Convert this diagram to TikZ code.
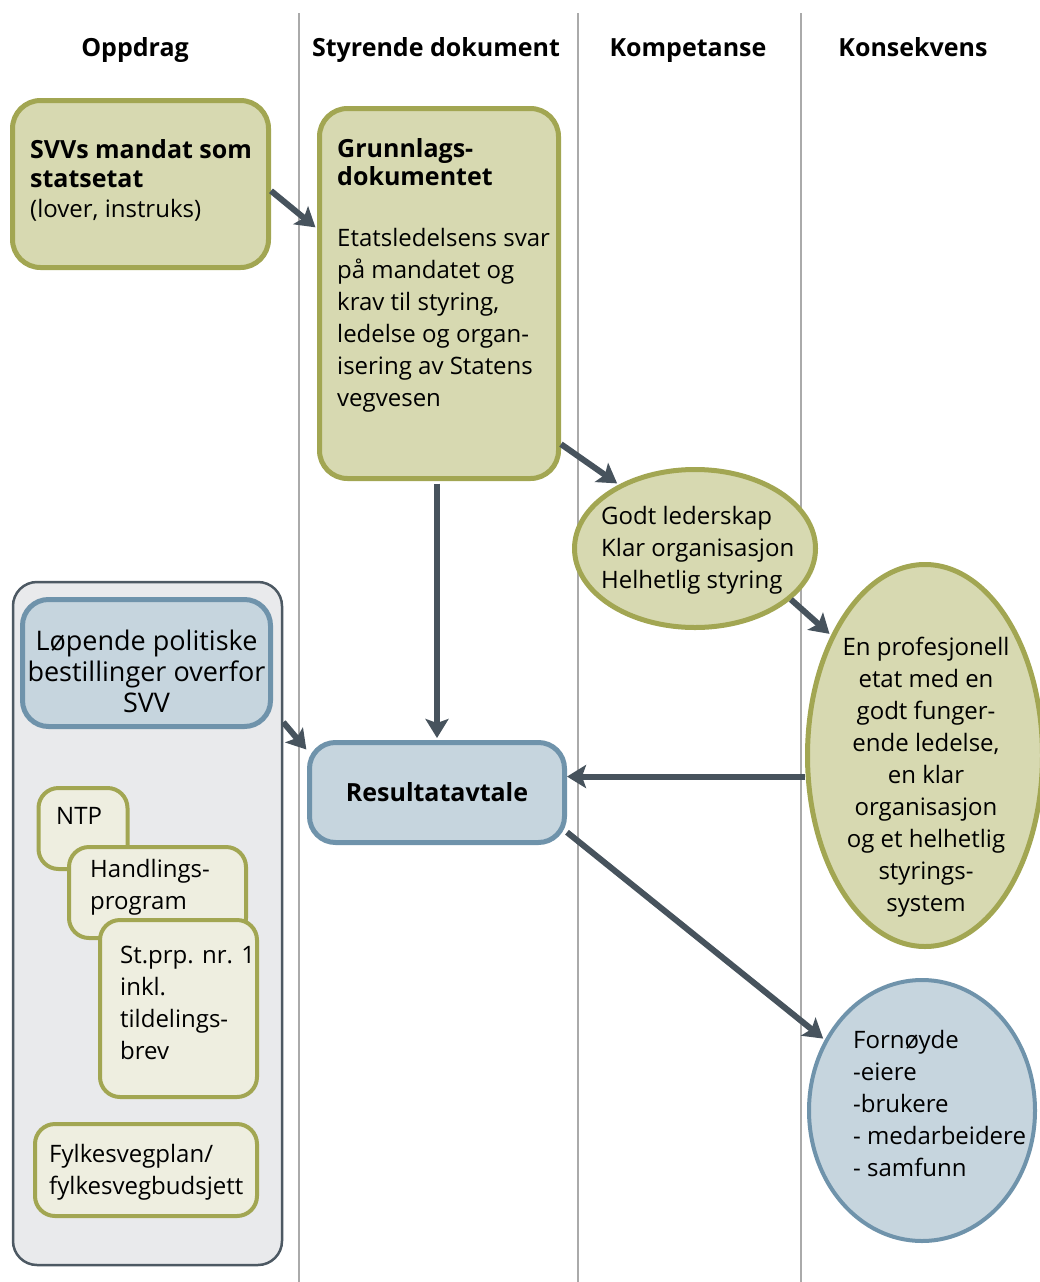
\documentclass[tikz,border=0pt]{standalone}
\usepackage{fontspec}
\setmainfont{Open Sans}
\usetikzlibrary{shapes.geometric}
\usetikzlibrary{arrows.meta}
\definecolor{olivefill}{RGB}{215,217,177}
\definecolor{oliveline}{RGB}{162,166,82}
\definecolor{bluefill}{RGB}{198,213,222}
\definecolor{blueline}{RGB}{111,147,171}
\definecolor{palefill}{RGB}{238,238,224}
\definecolor{groupfill}{RGB}{233,234,236}
\definecolor{groupline}{RGB}{77,89,99}
\definecolor{arrowcol}{RGB}{71,83,93}
\definecolor{sepline}{RGB}{170,170,170}
\newcommand\boldtxt{\fontsize{25}{29}\selectfont\bfseries}
\tikzstyle{olive box}=[draw=oliveline,fill=olivefill,line width=5pt,rounded corners=28pt,inner sep=0pt]
\tikzstyle{blue box}=[draw=blueline,fill=bluefill,line width=5pt,rounded corners=26pt,inner sep=0pt]
\tikzstyle{pale box}=[draw=oliveline,fill=palefill,line width=4pt,rounded corners=20pt,inner sep=0pt]
\tikzstyle{group box}=[draw=groupline,fill=groupfill,line width=2.5pt,rounded corners=24pt,inner sep=0pt]
\tikzstyle{olive blob}=[ellipse,draw=oliveline,fill=olivefill,line width=5pt,inner sep=0pt]
\tikzstyle{blue blob}=[ellipse,draw=blueline,fill=bluefill,line width=4pt,inner sep=0pt]
\tikzstyle{txt}=[inner sep=0pt,align=left,anchor=base west,font=\fontsize{24}{32}\selectfont]
\tikzstyle{head}=[inner sep=0pt,anchor=base,font=\boldtxt]
\tikzstyle{flow}=[draw=arrowcol,line width=6pt,-{Stealth[length=19pt,width=23pt,inset=4pt]}]
\tikzstyle{sep}=[draw=sepline,line width=1.5pt]

\begin{document}
\begin{tikzpicture}[x=1pt,y=-1pt]
	\useasboundingbox (0,0) rectangle (1039,1282);

	% Column lines
	\foreach \xs in {299,578,801}
		\draw[sep] (\xs,13) -- (\xs,1282);

	% Column heads
	\node[head] (hoppdrag) at (135,56) {Oppdrag};
	\node[head] (hstyr) at (436,56) {Styrende dokument};
	\node[head] (hkomp) at (688,56) {Kompetanse};
	\node[head] (hkons) at (913,56) {Konsekvens};

	% Oppdrag (text nodes sit on the baseline of their last line)
	\node[olive box,minimum width=256pt,minimum height=167pt] (svv) at (140.5,184) {};
	\node[txt] (svvtxt) at (30,217) {{\boldtxt SVVs mandat som}\\[-3pt]{\boldtxt statsetat}\\[-2pt](lover, instruks)};

	% Styrende dokument
	\node[olive box,minimum width=239pt,minimum height=370pt] (grunn) at (439,293.5) {};
	\node[txt] (grunntxt) at (337,406) {{\boldtxt Grunnlags-}\\[-4pt]{\boldtxt dokumentet}\\[29pt]Etatsledelsens svar\\på mandatet og\\krav til styring,\\ledelse og organ-\\isering av Statens\\vegvesen};

	% Kompetanse
	\node[olive blob,minimum width=241pt,minimum height=158pt] (godt) at (695,548.5) {};
	\node[txt] (godttxt) at (601,588) {Godt lederskap\\Klar organisasjon\\Helhetlig styring};

	% Konsekvens
	\node[olive blob,minimum width=235pt,minimum height=382pt] (prof) at (925,755.5) {};
	\node[txt,align=center,anchor=base] (proftxt) at (926,911) {En profesjonell\\etat med en\\godt funger-\\ende ledelse,\\en klar\\organisasjon\\og et helhetlig\\styrings-\\system};
	\node[blue blob,minimum width=226pt,minimum height=261pt] (forn) at (922,1110.5) {};
	\node[txt] (forntxt) at (853,1176) {Fornøyde\\-eiere\\-brukere\\- medarbeidere\\- samfunn};

	% Group of orders
	\node[group box,minimum width=269pt,minimum height=683pt] (group) at (147.5,923.5) {};
	\node[blue box,minimum width=248pt,minimum height=127pt] (lop) at (146.5,663) {};
	\node[txt,align=center,anchor=base,font=\fontsize{27}{31}\selectfont] (loptxt) at (146.5,712) {Løpende politiske\\bestillinger overfor\\SVV};
	\node[pale box,minimum width=89pt,minimum height=81pt] (ntp) at (83,828.5) {};
	\node[txt] (ntptxt) at (56,824.5) {NTP};
	\node[pale box,minimum width=177pt,minimum height=91pt] (handl) at (157.5,892.5) {};
	\node[txt] (handltxt) at (90,909) {Handlings-\\program};
	\node[pale box,minimum width=157pt,minimum height=177pt] (stprp) at (178.5,1008.5) {};
	\node[txt] (stprptxt) at (120,1059) {St.prp. nr. 1\\inkl.\\tildelings-\\brev};
	\node[pale box,minimum width=222pt,minimum height=92pt] (fylke) at (146,1170) {};
	\node[txt] (fylketxt) at (49,1194) {Fylkesvegplan/\\fylkesvegbudsjett};

	% Result agreement
	\node[blue box,minimum width=255pt,minimum height=100pt,font=\boldtxt] (res) at (437,792.5) {Resultatavtale};

	% Arrows
	\draw[flow,shorten >=2pt] (svv.-3) -- (grunn.152);
	\draw[flow,shorten >=2pt] (grunn.-51) -- (godt.140);
	\draw[flow,shorten >=2pt] (godt.-28) -- (prof.128);
	\draw[flow,shorten <=2.5pt,shorten >=2pt] (grunn.south -| res.north) -- (res.north);
	\draw[flow,shorten >=1pt] (group.56) -- (res.162);
	\draw[flow] (prof.west |- res.7) -- (res.7);
	\draw[flow,shorten >=2pt] (res.-17) -- (forn.144);
\end{tikzpicture}
\end{document}
